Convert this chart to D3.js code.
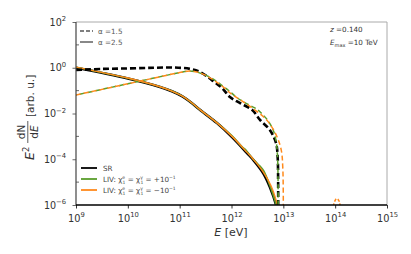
<!DOCTYPE html>
<html>
<head>
<meta charset="utf-8">
<script src="https://cdn.jsdelivr.net/npm/d3@7"></script>
<style>
body { margin: 0; background: #fff; }
text { font-family: "DejaVu Sans", sans-serif; }
</style>
</head>
<body>
<div id="chart"></div>
<script>
// values are log10(E / eV) and log10(E^2 dN/dE)
var srHardE = [9.0, 9.5, 10.0, 10.5, 10.9, 11.2, 11.4, 11.62, 11.82, 11.97, 12.16, 12.4, 12.55, 12.74, 12.86, 12.89, 12.9, 12.9];
var srHardF = [-0.10, -0.05, -0.03, 0.0, 0.01, -0.05, -0.19, -0.54, -0.89, -1.28, -1.54, -1.85, -2.28, -2.72, -3.3, -3.9, -5.0, -6.5];

var livMinusHardE = [9.0, 10.0, 11.0, 11.15, 11.3, 11.45, 11.62, 11.82, 12.0, 12.2, 12.4, 12.6, 12.74, 12.88, 12.96, 12.99, 13.0];
var livMinusHardF = [-1.19, -0.70, -0.21, -0.15, -0.17, -0.28, -0.49, -0.8, -1.15, -1.45, -1.76, -2.11, -2.46, -3.03, -3.6, -4.4, -6.5];
var livMinusBumpE = [13.95, 13.98, 14.03, 14.08, 14.1];
var livMinusBumpF = [-6.5, -5.9, -5.72, -5.85, -6.5];

var livPlusHardE = [9.0, 10.0, 11.0, 11.15, 11.3, 11.45, 11.62, 11.82, 12.0, 12.1, 12.2, 12.4, 12.5, 12.6, 12.7, 12.8, 12.86, 12.89, 12.9];
var livPlusHardF = [-1.19, -0.70, -0.21, -0.15, -0.17, -0.28, -0.46, -0.78, -1.1, -1.3, -1.45, -1.7, -1.82, -2.05, -2.3, -2.7, -3.2, -4.0, -6.5];

var srSoftE = [9.0, 10.0, 10.62, 10.85, 11.06, 11.22, 11.39, 11.72, 12.01, 12.3, 12.42, 12.61, 12.74, 12.86, 12.9];
var srSoftF = [0.0, -0.47, -0.84, -1.03, -1.26, -1.52, -1.84, -2.42, -3.03, -3.73, -4.03, -4.6, -5.21, -6.0, -6.5];

var livMinusSoftE = [9.0, 10.0, 10.62, 10.85, 11.06, 11.22, 11.39, 11.72, 12.01, 12.3, 12.42, 12.61, 12.76, 12.88, 12.93];
var livMinusSoftF = [0.03, -0.45, -0.83, -1.02, -1.25, -1.51, -1.83, -2.41, -3.0, -3.7, -4.0, -4.55, -5.15, -5.95, -6.5];

var livPlusSoftE = [9.0, 10.0, 10.62, 10.85, 11.06, 11.22, 11.39, 11.72, 12.01, 12.2, 12.27, 12.42, 12.55, 12.62, 12.74, 12.86, 12.9];
var livPlusSoftF = [0.02, -0.46, -0.83, -1.02, -1.25, -1.51, -1.83, -2.41, -2.98, -3.45, -3.58, -4.0, -4.3, -4.5, -5.15, -6.0, -6.5];

var xTickExp = [9, 10, 11, 12, 13, 14, 15];
var yTickExp = [-6, -4, -2, 0, 2];
var yMinorExp = [-5, -3, -1, 1];

var legendLabels = ["SR", "LIV: ", "LIV: "];
var livSigns = ["+", "\u2212"];

var green = "#5a9e2c", orange = "#ff8a1c";

var margin = {top: 22, right: 24, bottom: 49, left: 76};
var width = 411 - margin.left - margin.right,
    height = 254 - margin.top - margin.bottom;

var svg = d3.select("#chart").append("svg")
    .attr("width", 411)
    .attr("height", 254);

var g = svg.append("g")
    .attr("transform", "translate(" + margin.left + "," + margin.top + ")");

var x = d3.scaleLog().domain([1e9, 1e15]).range([0, width]);
var y = d3.scaleLog().domain([1e-6, 1e2]).range([height, 0]);

g.append("clipPath").attr("id", "plotclip")
    .append("rect").attr("width", width).attr("height", height);

function pairs(es, fs) {
    return es.map(function(e, i) { return [Math.pow(10, e), Math.pow(10, fs[i])]; });
}

var line = d3.line()
    .curve(d3.curveCatmullRom.alpha(0.5))
    .x(function(d) { return x(d[0]); })
    .y(function(d) { return y(d[1]); });

var curves = g.append("g").attr("clip-path", "url(#plotclip)");

function draw(es, fs, color, w, dash, offset) {
    curves.append("path")
        .datum(pairs(es, fs))
        .attr("fill", "none")
        .attr("stroke", color)
        .attr("stroke-width", w)
        .attr("stroke-dasharray", dash || null)
        .attr("stroke-dashoffset", offset || 0)
        .attr("d", line);
}

// alpha = 2.5 (solid)
draw(srSoftE, srSoftF, "#000", 2.6);
draw(livPlusSoftE, livPlusSoftF, green, 1.6);
draw(livMinusSoftE, livMinusSoftF, orange, 1.4);
// alpha = 1.5 (dashed)
draw(srHardE, srHardF, "#000", 2.6, "6,3");
draw(livPlusHardE, livPlusHardF, green, 1.5, "5,3", 4);
draw(livMinusHardE, livMinusHardF, orange, 1.5, "5,3");
draw(livMinusBumpE, livMinusBumpF, orange, 1.5, "3,2");

// axes
function powLabel(sel, exps) {
    sel.text(null);
    sel.each(function(d, i) {
        var t = d3.select(this);
        t.append("tspan").text("10");
        t.append("tspan").attr("dy", -4.5).attr("font-size", 6.8)
            .text(String(exps[i]).replace("-", "\u2212"));
    });
}

var xAxis = g.append("g")
    .attr("transform", "translate(0," + height + ")")
    .call(d3.axisBottom(x).tickValues(xTickExp.map(function(e) { return Math.pow(10, e); }))
        .tickSize(3.5).tickPadding(3));
xAxis.select(".domain").remove();
xAxis.selectAll(".tick line").attr("stroke", "#000").attr("stroke-width", 0.8);
xAxis.selectAll(".tick text").attr("font-size", 9.8).attr("fill", "#333")
    .attr("dy", "1.05em").call(powLabel, xTickExp);

var yAxis = g.append("g")
    .call(d3.axisLeft(y).tickValues(yTickExp.map(function(e) { return Math.pow(10, e); }))
        .tickSize(3.5).tickPadding(3));
yAxis.select(".domain").remove();
yAxis.selectAll(".tick line").attr("stroke", "#444").attr("stroke-width", 0.8);
yAxis.selectAll(".tick text").attr("font-size", 9.6).attr("fill", "#333")
    .attr("dx", "-0.35em").call(powLabel, yTickExp);

g.selectAll(".minor")
    .data(yMinorExp)
    .enter().append("line")
    .attr("x1", 0).attr("x2", 3)
    .attr("y1", function(d) { return y(Math.pow(10, d)); })
    .attr("y2", function(d) { return y(Math.pow(10, d)); })
    .attr("stroke", "#444").attr("stroke-width", 0.8);

// spines
g.append("line").attr("x1", 0).attr("x2", width).attr("y1", 0).attr("y2", 0)
    .attr("stroke", "#aaa").attr("stroke-width", 1);
g.append("line").attr("x1", width).attr("x2", width).attr("y1", 0).attr("y2", height)
    .attr("stroke", "#aaa").attr("stroke-width", 1);
g.append("line").attr("x1", 0).attr("x2", 0).attr("y1", 0).attr("y2", height)
    .attr("stroke", "#444").attr("stroke-width", 1.2);
g.append("line").attr("x1", 0).attr("x2", width).attr("y1", height).attr("y2", height)
    .attr("stroke", "#000").attr("stroke-width", 1.4);

// axis labels
var xl = svg.append("text")
    .attr("x", 231).attr("y", 236)
    .attr("text-anchor", "middle")
    .attr("font-size", 11).attr("fill", "#333");
xl.append("tspan").attr("font-style", "italic").text("E");
xl.append("tspan").text(" [eV]");

var yl = svg.append("g").attr("transform", "rotate(-90)");
var e2 = yl.append("text").attr("x", -160).attr("y", 34)
    .attr("font-size", 12.5).attr("fill", "#333");
e2.append("tspan").attr("font-style", "italic").text("E");
e2.append("tspan").attr("dy", -5.5).attr("font-size", 8.5).text("2");
yl.append("text").attr("x", -132).attr("y", 25)
    .attr("text-anchor", "middle").attr("font-size", 10.5).attr("fill", "#333")
    .text("dN");
yl.append("line").attr("x1", -143).attr("x2", -121).attr("y1", 27.8).attr("y2", 27.8)
    .attr("stroke", "#333").attr("stroke-width", 0.8);
var de = yl.append("text").attr("x", -132).attr("y", 37.5)
    .attr("text-anchor", "middle").attr("font-size", 10.5).attr("fill", "#333");
de.append("tspan").text("d");
de.append("tspan").attr("font-style", "italic").text("E");
yl.append("text").attr("x", -117).attr("y", 34)
    .attr("font-size", 10.5).attr("fill", "#333")
    .text("[arb. u.]");

// top-left legend
var lg1 = svg.append("g").attr("transform", "translate(80,0)");
lg1.append("line").attr("x1", 0).attr("x2", 13).attr("y1", 31).attr("y2", 31)
    .attr("stroke", "#555").attr("stroke-width", 1.4).attr("stroke-dasharray", "4,2");
lg1.append("line").attr("x1", 0).attr("x2", 13).attr("y1", 42).attr("y2", 42)
    .attr("stroke", "#555").attr("stroke-width", 1.4);
lg1.append("text").attr("x", 18).attr("y", 34).attr("font-size", 7.2).attr("fill", "#555")
    .text("\u03b1 =1.5");
lg1.append("text").attr("x", 18).attr("y", 45).attr("font-size", 7.2).attr("fill", "#555")
    .text("\u03b1 =2.5");

// top-right annotation
var ann = svg.append("g").attr("fill", "#333").attr("font-size", 7.2);
var z = ann.append("text").attr("x", 330).attr("y", 32);
z.append("tspan").attr("font-style", "italic").text("z");
z.append("tspan").text(" =0.140");
var em = ann.append("text").attr("x", 330).attr("y", 45);
em.append("tspan").attr("font-style", "italic").text("E");
em.append("tspan").attr("font-size", 5).attr("dy", 1.5).text("max");
em.append("tspan").attr("dy", -1.5).text(" =10 TeV");

// bottom legend
var lgColors = ["#000", green, orange];
var lg2 = svg.append("g");
lgColors.forEach(function(c, i) {
    var yy = 168 + i * 11;
    lg2.append("line").attr("x1", 81).attr("x2", 97).attr("y1", yy).attr("y2", yy)
        .attr("stroke", c).attr("stroke-width", 1.8);
    var t = lg2.append("text").attr("x", 103).attr("y", yy + 2.6)
        .attr("font-size", 7.2).attr("fill", "#444");
    t.append("tspan").text(legendLabels[i]);
    if (i > 0) {
        t.append("tspan").text("\u03c7");
        t.append("tspan").attr("font-size", 4.5).attr("dy", -3).text("e");
        t.append("tspan").attr("font-size", 4.5).attr("dx", -2.5).attr("dy", 5).text("1");
        t.append("tspan").attr("dy", -2).text(" = \u03c7");
        t.append("tspan").attr("font-size", 4.5).attr("dy", -3).text("\u03b3");
        t.append("tspan").attr("font-size", 4.5).attr("dx", -2.5).attr("dy", 5).text("1");
        t.append("tspan").attr("dy", -2).text(" = " + livSigns[i - 1] + "10");
        t.append("tspan").attr("font-size", 4.5).attr("dy", -3).text("\u22121");
    }
});
</script>
</body>
</html>
